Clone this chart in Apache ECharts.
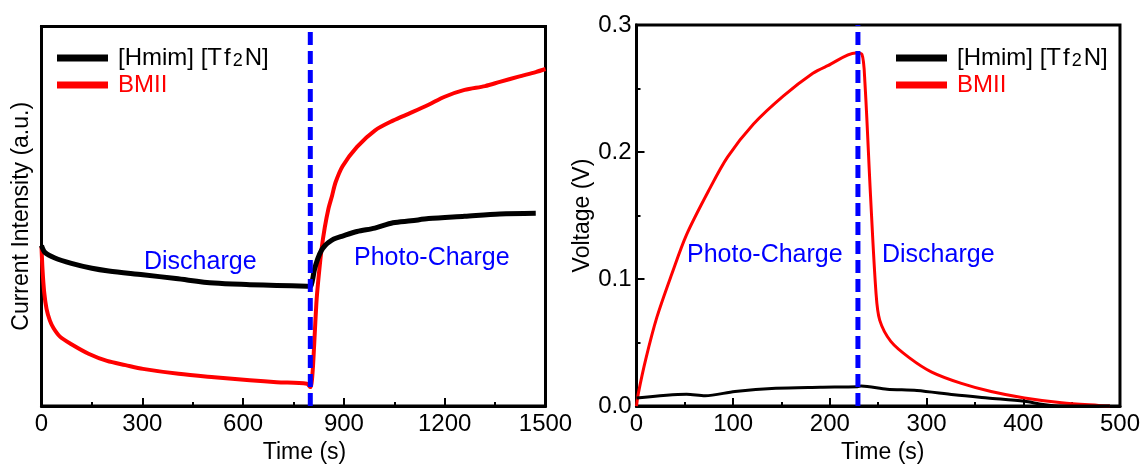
<!DOCTYPE html>
<html>
<head>
<meta charset="utf-8">
<script src="https://cdn.jsdelivr.net/npm/echarts@6/dist/echarts.min.js"></script>
<style>
html, body { margin: 0; padding: 0; background: #fff; }
#chart { width: 1143px; height: 469px; }
</style>
</head>
<body>
<div id="chart"></div>
<script>
// ---- Left panel: current transient, discharge then photo-charge ----
const hmimTimeL    = [0, 10, 40, 89, 150, 200, 302, 400, 514, 620, 700, 790, 800, 806, 812, 822, 833, 844, 854, 870, 896, 939, 992, 1046, 1100, 1152, 1259, 1364, 1471];
const hmimCurrent  = [42.3, 40.5, 39.0, 37.6, 36.3, 35.6, 34.6, 33.6, 32.4, 32.0, 31.8, 31.6, 31.5, 33.0, 35.8, 38.8, 41.0, 42.3, 43.1, 44.0, 44.8, 46.0, 46.9, 48.3, 48.8, 49.4, 50.0, 50.6, 50.8];

const bmiiTimeL    = [0, 3, 8, 15, 25, 36, 55, 89, 140, 195, 250, 302, 408, 514, 620, 700, 790, 800, 806, 812, 818, 823, 833, 843, 854, 865, 875, 896, 939, 992, 1046, 1100, 1152, 1200, 1259, 1320, 1364, 1420, 1471, 1500];
const bmiiCurrent  = [42.0, 36.0, 30.0, 25.6, 22.5, 20.5, 18.3, 16.3, 13.8, 11.9, 10.8, 9.8, 8.5, 7.6, 6.8, 6.3, 5.9, 5.0, 8.0, 17.0, 27.0, 32.4, 41.0, 47.0, 52.0, 55.5, 58.9, 63.2, 68.3, 72.6, 75.2, 77.3, 79.4, 81.5, 83.3, 84.3, 85.4, 86.8, 88.0, 88.8];

// ---- Right panel: open-circuit voltage, photo-charge then discharge ----
const hmimTimeR    = [0, 51.8, 71, 101.8, 144, 190, 228.5, 232.3, 259.2, 290, 328.4, 363, 401.3, 420.5, 440, 489.6];
const hmimVoltage  = [0.0064, 0.0094, 0.0082, 0.0115, 0.0140, 0.0148, 0.0153, 0.0158, 0.0133, 0.0123, 0.0089, 0.0064, 0.0038, 0.0013, 0.0, 0.0];

const bmiiTimeR    = [0, 1.9, 9.6, 21.1, 36.5, 51.8, 74.9, 94.1, 121, 151.7, 182.4, 197.8, 226.6, 233.1, 236.2, 242, 247.7, 251.5, 263, 282.3, 305.3, 336, 366.7, 401.3, 439.7, 478, 489.6];
const bmiiVoltage  = [0, 0.0100, 0.037, 0.070, 0.104, 0.135, 0.170, 0.196, 0.222, 0.244, 0.262, 0.268, 0.278, 0.277, 0.255, 0.166, 0.089, 0.0677, 0.051, 0.038, 0.0268, 0.0179, 0.0115, 0.0064, 0.0026, 0.0005, 0.0];

// Light switching instants (s)
const switchTimeL = 800;
const switchTimeR = 229;

// Axis ranges: [min, max, interval]
const xRangeL = [0, 1500, 300];
const yRangeL = [0, 100];
const xRangeR = [0, 500, 100];
const yRangeR = [0, 0.3, 0.1];

const seriesNames = ['[Hmim] [Tf2N]', 'BMII'];
const FONT = '"Liberation Sans", Arial, Helvetica, sans-serif';
const RED = '#ff0000', BLACK = '#000000', BLUE = '#0000ff';

const pairs = (xs, ys) => xs.map((x, i) => [x, ys[i]]);

function frameAxis(extra) {
  return Object.assign({
    type: 'value',
    axisLine: { show: true, onZero: false, lineStyle: { color: BLACK, width: 3 } },
    axisTick: { show: true, inside: true, length: 8, lineStyle: { color: BLACK, width: 2 } },
    minorTick: { show: true, splitNumber: 2, length: 4, lineStyle: { color: BLACK, width: 2 } },
    splitLine: { show: false },
    axisLabel: { color: BLACK, fontFamily: FONT, fontSize: 24, margin: 6, formatter: v => String(v) },
    nameTextStyle: { color: BLACK, fontFamily: FONT, fontSize: 23 }
  }, extra);
}

function curve(name, color, width, idx, xs, ys, z) {
  return {
    name: name, type: 'line', xAxisIndex: idx, yAxisIndex: idx, color: color,
    data: pairs(xs, ys), showSymbol: false, smooth: 0.3,
    lineStyle: { width: width, join: 'round' }, z: z
  };
}

function switchLine(t, yMin, yMax, idx) {
  return {
    name: 'switch', type: 'line', xAxisIndex: idx, yAxisIndex: idx,
    data: [[t, yMin], [t, yMax]], showSymbol: false, silent: true, z: 5,
    lineStyle: { color: BLUE, width: 5, type: [13, 6] }
  };
}

const legendBase = {
  orient: 'vertical', icon: 'rect', itemWidth: 51, itemHeight: 7, itemGap: 3,
  selectedMode: false,
  formatter: name => name === seriesNames[0]
    ? '{gap|}[Hmim] [T\u200af\u200a{sub|2}\u200aN]'
    : '{gap|}' + name,
  textStyle: {
    fontFamily: FONT, fontSize: 24, lineHeight: 24,
    rich: {
      gap: { width: 5 },
      sub: { fontFamily: FONT, fontSize: 18, lineHeight: 14, verticalAlign: 'bottom', color: BLACK }
    }
  },
  data: [
    { name: seriesNames[0], textStyle: { color: BLACK } },
    { name: seriesNames[1], textStyle: { color: RED } }
  ]
};

const chart = echarts.init(document.getElementById('chart'), null, { renderer: 'canvas' });
chart.setOption({
  animation: false,
  backgroundColor: '#ffffff',
  grid: [
    { left: 41.5, top: 26.5, width: 504, height: 390, show: true, borderColor: BLACK, borderWidth: 3 },
    { left: 636.5, top: 25, width: 484, height: 391.5, show: true, borderColor: BLACK, borderWidth: 3 }
  ],
  legend: [
    Object.assign({ left: 52, top: 41 }, legendBase),
    Object.assign({ left: 891, top: 41 }, legendBase)
  ],
  xAxis: [
    frameAxis({ gridIndex: 0, min: xRangeL[0], max: xRangeL[1], interval: xRangeL[2],
      name: 'Time (s)', nameLocation: 'middle', nameGap: 28,
      nameTextStyle: { color: BLACK, fontFamily: FONT, fontSize: 23, padding: [0, 0, 0, 22] } }),
    frameAxis({ gridIndex: 1, min: xRangeR[0], max: xRangeR[1], interval: xRangeR[2],
      name: 'Time (s)', nameLocation: 'middle', nameGap: 28,
      nameTextStyle: { color: BLACK, fontFamily: FONT, fontSize: 23, padding: [0, 0, 0, 9] } })
  ],
  yAxis: [
    frameAxis({ gridIndex: 0, min: yRangeL[0], max: yRangeL[1],
      axisTick: { show: false }, minorTick: { show: false }, axisLabel: { show: false },
      name: 'Current Intensity (a.u.)', nameLocation: 'middle', nameGap: 8 }),
    frameAxis({ gridIndex: 1, min: yRangeR[0], max: yRangeR[1], interval: yRangeR[2],
      axisLabel: { color: BLACK, fontFamily: FONT, fontSize: 24, margin: 5, formatter: v => v.toFixed(1) },
      name: 'Voltage (V)', nameLocation: 'middle', nameGap: 42 })
  ],
  series: [
    curve(seriesNames[0], BLACK, 5, 0, hmimTimeL, hmimCurrent, 3),
    curve(seriesNames[1], RED, 4, 0, bmiiTimeL, bmiiCurrent, 2),
    switchLine(switchTimeL, yRangeL[0], yRangeL[1], 0),
    curve(seriesNames[0], BLACK, 3, 1, hmimTimeR, hmimVoltage, 3),
    curve(seriesNames[1], RED, 3, 1, bmiiTimeR, bmiiVoltage, 2),
    switchLine(switchTimeR, yRangeR[0], yRangeR[1], 1)
  ],
  graphic: [
    { type: 'text', left: 144, top: 250, style: { text: 'Discharge', fill: BLUE, font: '25px ' + FONT } },
    { type: 'text', left: 354, top: 246, style: { text: 'Photo-Charge', fill: BLUE, font: '25px ' + FONT } },
    { type: 'text', left: 687, top: 243, style: { text: 'Photo-Charge', fill: BLUE, font: '25px ' + FONT } },
    { type: 'text', left: 882, top: 243, style: { text: 'Discharge', fill: BLUE, font: '25px ' + FONT } }
  ]
});
</script>
</body>
</html>
